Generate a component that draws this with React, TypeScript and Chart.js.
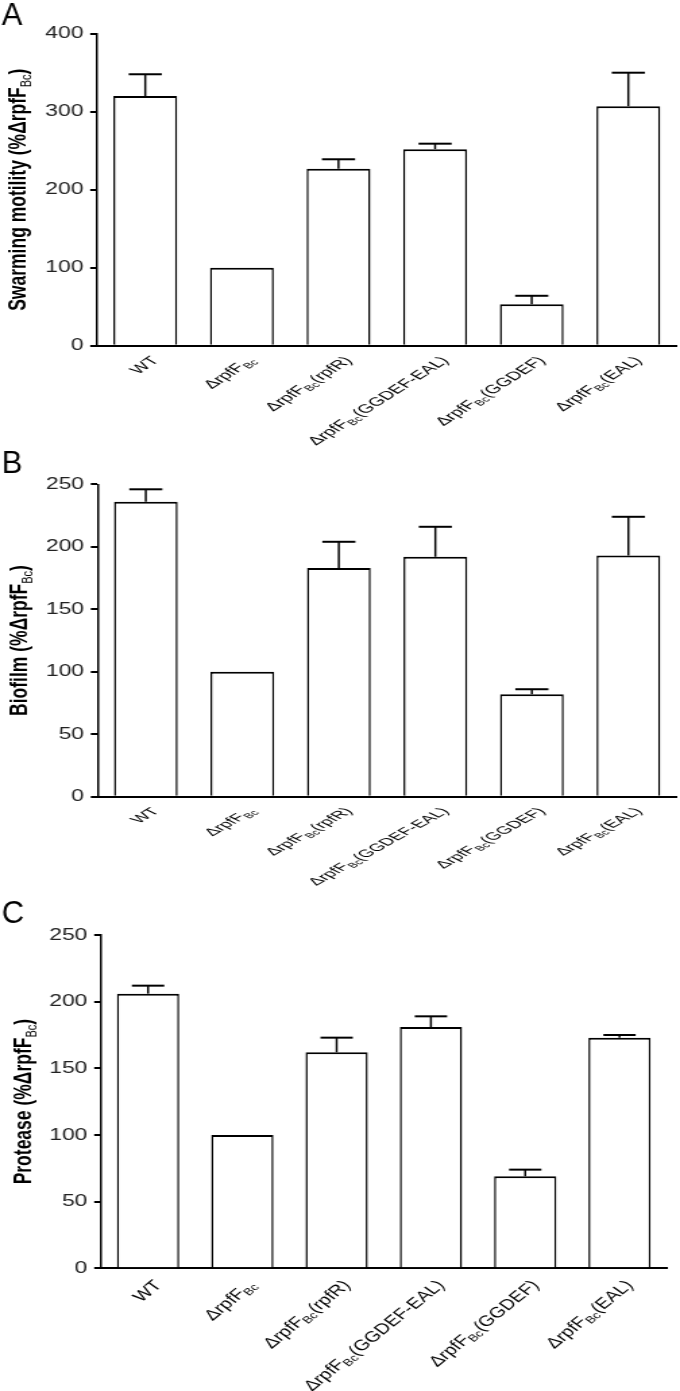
import React, { useEffect, useRef } from "react";
import { Chart, registerables } from "chart.js";

Chart.register(...registerables);

// ---------- data ----------
const categories = [
  "WT",
  "ΔrpfF_{Bc}",
  "ΔrpfF_{Bc}(rpfR)",
  "ΔrpfF_{Bc}(GGDEF-EAL)",
  "ΔrpfF_{Bc}(GGDEF)",
  "ΔrpfF_{Bc}(EAL)",
];

const swarmingMeans = [320, 100, 227, 252, 53, 307];
const swarmingErrors = [28, 0, 12, 7, 11, 43];
const swarmingTicks = [0, 100, 200, 300, 400];

const biofilmMeans = [236, 100, 183, 192, 82, 193];
const biofilmErrors = [10, 0, 21, 24, 4, 31];
const biofilmTicks = [0, 50, 100, 150, 200, 250];

const proteaseMeans = [206, 100, 162, 181, 69, 173];
const proteaseErrors = [6, 0, 11, 8, 5, 2];
const proteaseTicks = [0, 50, 100, 150, 200, 250];

const panelLetters = ["A", "B", "C"];
const yTitles = [
  "Swarming motility (%ΔrpfF_{Bc})",
  "Biofilm (%ΔrpfF_{Bc})",
  "Protease (%ΔrpfF_{Bc})",
];

// ---------- drawing helpers ----------
const CW = 504; // canvas drawing width, stretched to 680 css px
const STRETCH = 680 / CW;
const FAMILY = "'Liberation Sans', Arial, Helvetica, sans-serif";
const LABEL_ANGLE = (47 * Math.PI) / 180;

type Seg = { text: string; sub: boolean };
function parseRich(s: string): Seg[] {
  const out: Seg[] = [];
  const re = /_\{([^}]*)\}/g;
  let last = 0;
  let m: RegExpExecArray | null;
  while ((m = re.exec(s))) {
    if (m.index > last) out.push({ text: s.slice(last, m.index), sub: false });
    out.push({ text: m[1], sub: true });
    last = m.index + m[0].length;
  }
  if (last < s.length) out.push({ text: s.slice(last), sub: false });
  return out;
}

function drawRich(
  ctx: CanvasRenderingContext2D,
  s: string,
  mainFont: string,
  subFont: string,
  subDy: number,
  align: "left" | "right" | "center"
) {
  const segs = parseRich(s);
  const widths = segs.map((g) => {
    ctx.font = g.sub ? subFont : mainFont;
    return ctx.measureText(g.text).width;
  });
  const total = widths.reduce((a, b) => a + b, 0);
  let x = align === "right" ? -total : align === "center" ? -total / 2 : 0;
  ctx.textAlign = "left";
  ctx.textBaseline = "alphabetic";
  segs.forEach((g, i) => {
    ctx.font = g.sub ? subFont : mainFont;
    ctx.fillText(g.text, x, g.sub ? subDy : 0);
    x += widths[i];
  });
}

type PanelProps = {
  top: number;
  height: number;
  letter: string;
  letterY: number;
  title: string;
  titleX: number;
  means: number[];
  errors: number[];
  ticks: number[];
  padTop: number;
  xHeight: number;
  yWidth: number;
  padRight: number;
  labelDy: number;
  labelSy: number;
};

function Panel(p: PanelProps) {
  const ref = useRef<HTMLCanvasElement>(null);

  useEffect(() => {
    const canvas = ref.current;
    if (!canvas) return;

    const overlay = {
      id: "overlay",
      afterDraw(chart: any) {
        const ctx: CanvasRenderingContext2D = chart.ctx;
        const xs = chart.scales.x;
        const ys = chart.scales.y;
        const area = chart.chartArea;
        const meta = chart.getDatasetMeta(0);

        // error bars (upper only)
        ctx.save();
        ctx.strokeStyle = "#000";
        meta.data.forEach((bar: any, i: number) => {
          const e = p.errors[i];
          if (!e) return;
          const yTop = ys.getPixelForValue(p.means[i] + e);
          const yBar = ys.getPixelForValue(p.means[i]);
          const half = bar.width * 0.26;
          ctx.lineWidth = 1.5;
          ctx.beginPath();
          ctx.moveTo(bar.x, yBar);
          ctx.lineTo(bar.x, yTop);
          ctx.stroke();
          ctx.lineWidth = 2;
          ctx.beginPath();
          ctx.moveTo(bar.x - half, yTop);
          ctx.lineTo(bar.x + half, yTop);
          ctx.stroke();
        });
        ctx.restore();

        // x labels, rotated with subscripts
        ctx.save();
        ctx.fillStyle = "#000";
        categories.forEach((lab, i) => {
          const cx = xs.getPixelForTick(i);
          ctx.save();
          ctx.translate(cx + 10.8, area.bottom + p.labelDy);
          ctx.scale(1, p.labelSy);
          ctx.rotate(-LABEL_ANGLE);
          drawRich(ctx, lab, `15px ${FAMILY}`, `10px ${FAMILY}`, 2.8, "right");
          ctx.restore();
        });
        ctx.restore();

        // y title
        ctx.save();
        ctx.fillStyle = "#000";
        ctx.translate(p.titleX, (area.top + area.bottom) / 2);
        ctx.rotate(-Math.PI / 2);
        drawRich(ctx, p.title, `bold 17.5px ${FAMILY}`, `11px ${FAMILY}`, 4, "center");
        ctx.restore();

        // panel letter (not stretched)
        ctx.save();
        ctx.fillStyle = "#000";
        ctx.translate(1.3, p.letterY);
        ctx.scale(1 / STRETCH, 1);
        ctx.font = `31px ${FAMILY}`;
        ctx.textAlign = "left";
        ctx.textBaseline = "alphabetic";
        ctx.fillText(p.letter, 0, 0);
        ctx.restore();
      },
    };

    const chart = new Chart(canvas, {
      type: "bar",
      data: {
        labels: categories,
        datasets: [
          {
            data: p.means,
            backgroundColor: "#ffffff",
            borderColor: "#000000",
            borderWidth: { top: 2, left: 1.5, right: 1.5, bottom: 0 } as any,
            borderSkipped: "start",
            barPercentage: 0.66,
            categoryPercentage: 1,
          },
        ],
      },
      options: {
        responsive: false,
        animation: false,
        events: [],
        layout: { padding: { top: p.padTop, left: 0, right: p.padRight, bottom: 0 } },
        plugins: { legend: { display: false }, tooltip: { enabled: false } },
        scales: {
          x: {
            type: "category",
            ticks: { display: false },
            grid: { display: false },
            border: { display: true, color: "#000", width: 2 },
            afterFit(s: any) {
              s.height = p.xHeight;
            },
          },
          y: {
            min: p.ticks[0],
            max: p.ticks[p.ticks.length - 1],
            afterBuildTicks(s: any) {
              s.ticks = p.ticks.map((v) => ({ value: v }));
            },
            ticks: {
              font: { family: FAMILY, size: 17 },
              color: "#222",
              padding: 5,
            },
            grid: {
              drawOnChartArea: false,
              drawTicks: true,
              tickLength: 5,
              color: "#000",
              lineWidth: 2,
            },
            border: { display: true, color: "#000", width: 1.5 },
            afterFit(s: any) {
              s.width = p.yWidth;
            },
          },
        },
      },
      plugins: [overlay],
    });

    return () => chart.destroy();
  }, []);

  return (
    <canvas
      ref={ref}
      width={CW}
      height={p.height}
      style={{ position: "absolute", left: 0, top: p.top, width: 680, height: p.height }}
    />
  );
}

export default function App() {
  return (
    <div
      style={{
        position: "absolute",
        left: 0,
        top: 0,
        width: 680,
        height: 1391,
        background: "#fff",
        overflow: "hidden",
      }}
    >
      <Panel
        top={0}
        height={448}
        letter={panelLetters[0]}
        letterY={25}
        title={yTitles[0]}
        titleX={19.3}
        means={swarmingMeans}
        errors={swarmingErrors}
        ticks={swarmingTicks}
        padTop={33.7}
        xHeight={102.3}
        yWidth={71.85}
        padRight={2.5}
        labelDy={15.3}
        labelSy={0.8}
      />
      <Panel
        top={440}
        height={447}
        letter={panelLetters[1]}
        letterY={33}
        title={yTitles[1]}
        titleX={20.4}
        means={biofilmMeans}
        errors={biofilmErrors}
        ticks={biofilmTicks}
        padTop={44.3}
        xHeight={90.3}
        yWidth={72.3}
        padRight={2.5}
        labelDy={15}
        labelSy={0.7}
      />
      <Panel
        top={880}
        height={511}
        letter={panelLetters[2]}
        letterY={43}
        title={yTitles[2]}
        titleX={22.6}
        means={proteaseMeans}
        errors={proteaseErrors}
        ticks={proteaseTicks}
        padTop={55}
        xHeight={122.7}
        yWidth={74.8}
        padRight={9.9}
        labelDy={17.5}
        labelSy={1}
      />
    </div>
  );
}
